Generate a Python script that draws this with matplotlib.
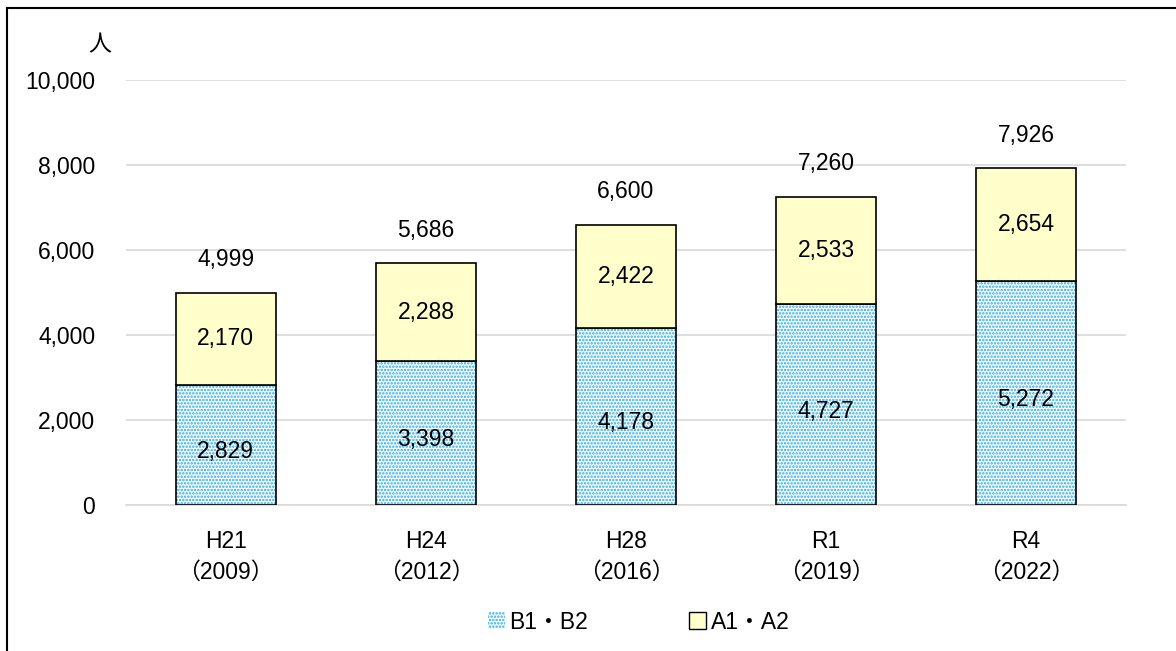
import matplotlib.pyplot as plt
from matplotlib.patches import Rectangle
from matplotlib.lines import Line2D

plt.rcParams['font.family'] = ['Liberation Sans', 'Noto Sans CJK JP', 'DejaVu Sans']
plt.rcParams['hatch.linewidth'] = 1.2

# data
years = ['H21\n（2009）', 'H24\n（2012）', 'H28\n（2016）', 'R1\n（2019）', 'R4\n（2022）']
b_vals = [2829, 3398, 4178, 4727, 5272]
a_vals = [2170, 2288, 2422, 2533, 2654]
totals = [4999, 5686, 6600, 7260, 7926]

fig = plt.figure(figsize=(11.76, 6.51), dpi=100)
ax = fig.add_axes([0.107, 0.224, 0.8505, 0.653])

x = range(len(years))
bw = 0.5
fs = 16.5
# B1・B2 dotted blue
ax.bar(x, b_vals, bw, color='white', edgecolor='#29a9e6', hatch='.....', linewidth=0, zorder=2)
ax.bar(x, b_vals, bw, color='none', edgecolor='black', linewidth=1.2, zorder=3)
# A1・A2 light yellow
ax.bar(x, a_vals, bw, bottom=b_vals, color='#ffffcc', edgecolor='black', linewidth=1.2, zorder=3)

for i in x:
    ax.text(i, b_vals[i] / 2 - 150, f'{b_vals[i]:,}', ha='center', va='center', fontsize=fs, zorder=4)
    ax.text(i, b_vals[i] + a_vals[i] / 2, f'{a_vals[i]:,}', ha='center', va='center', fontsize=fs, zorder=4)
    ax.text(i, totals[i] + 500, f'{totals[i]:,}', ha='center', va='bottom', fontsize=fs)

ax.set_xlim(-0.5, 4.5)
ax.set_ylim(0, 10000)
ax.set_yticks(range(0, 10001, 2000))
ax.set_yticklabels([f'{v:,}' for v in range(0, 10001, 2000)], fontsize=fs)
ax.set_xticks(list(x))
ax.set_xticklabels(years, fontsize=fs, linespacing=1.45)
ax.tick_params(axis='y', length=0, pad=22)
ax.tick_params(axis='x', length=0, pad=18)
ax.yaxis.grid(True, color='#d9d9d9', linewidth=1.2, zorder=0)
ax.set_axisbelow(True)
for s in ['top', 'right', 'left']:
    ax.spines[s].set_visible(False)
ax.spines['bottom'].set_color('#d9d9d9')
ax.spines['bottom'].set_linewidth(1.2)

ax.text(-0.026, 1.082, '人', transform=ax.transAxes, fontsize=fs, ha='center', va='center')

# legend
lb = Rectangle((0, 0), 1, 1, facecolor='white', edgecolor='#29a9e6', hatch='.....', linewidth=0)
la = Rectangle((0, 0), 1, 1, facecolor='#ffffcc', edgecolor='black', linewidth=1)
fig.legend([lb, la], ['B1・B2', 'A1・A2'], loc='center', bbox_to_anchor=(0.543, 0.044),
           ncol=2, frameon=False, fontsize=fs, columnspacing=4.4, handlelength=0.75,
           handleheight=0.75, handletextpad=0.2)

# outer border (left and top only)
fig.add_artist(Line2D([0.006, 0.006], [0, 0.987], transform=fig.transFigure, color='black', linewidth=1.5))
fig.add_artist(Line2D([0.006, 1], [0.987, 0.987], transform=fig.transFigure, color='black', linewidth=1.5))

plt.savefig('out.png', dpi=100)
